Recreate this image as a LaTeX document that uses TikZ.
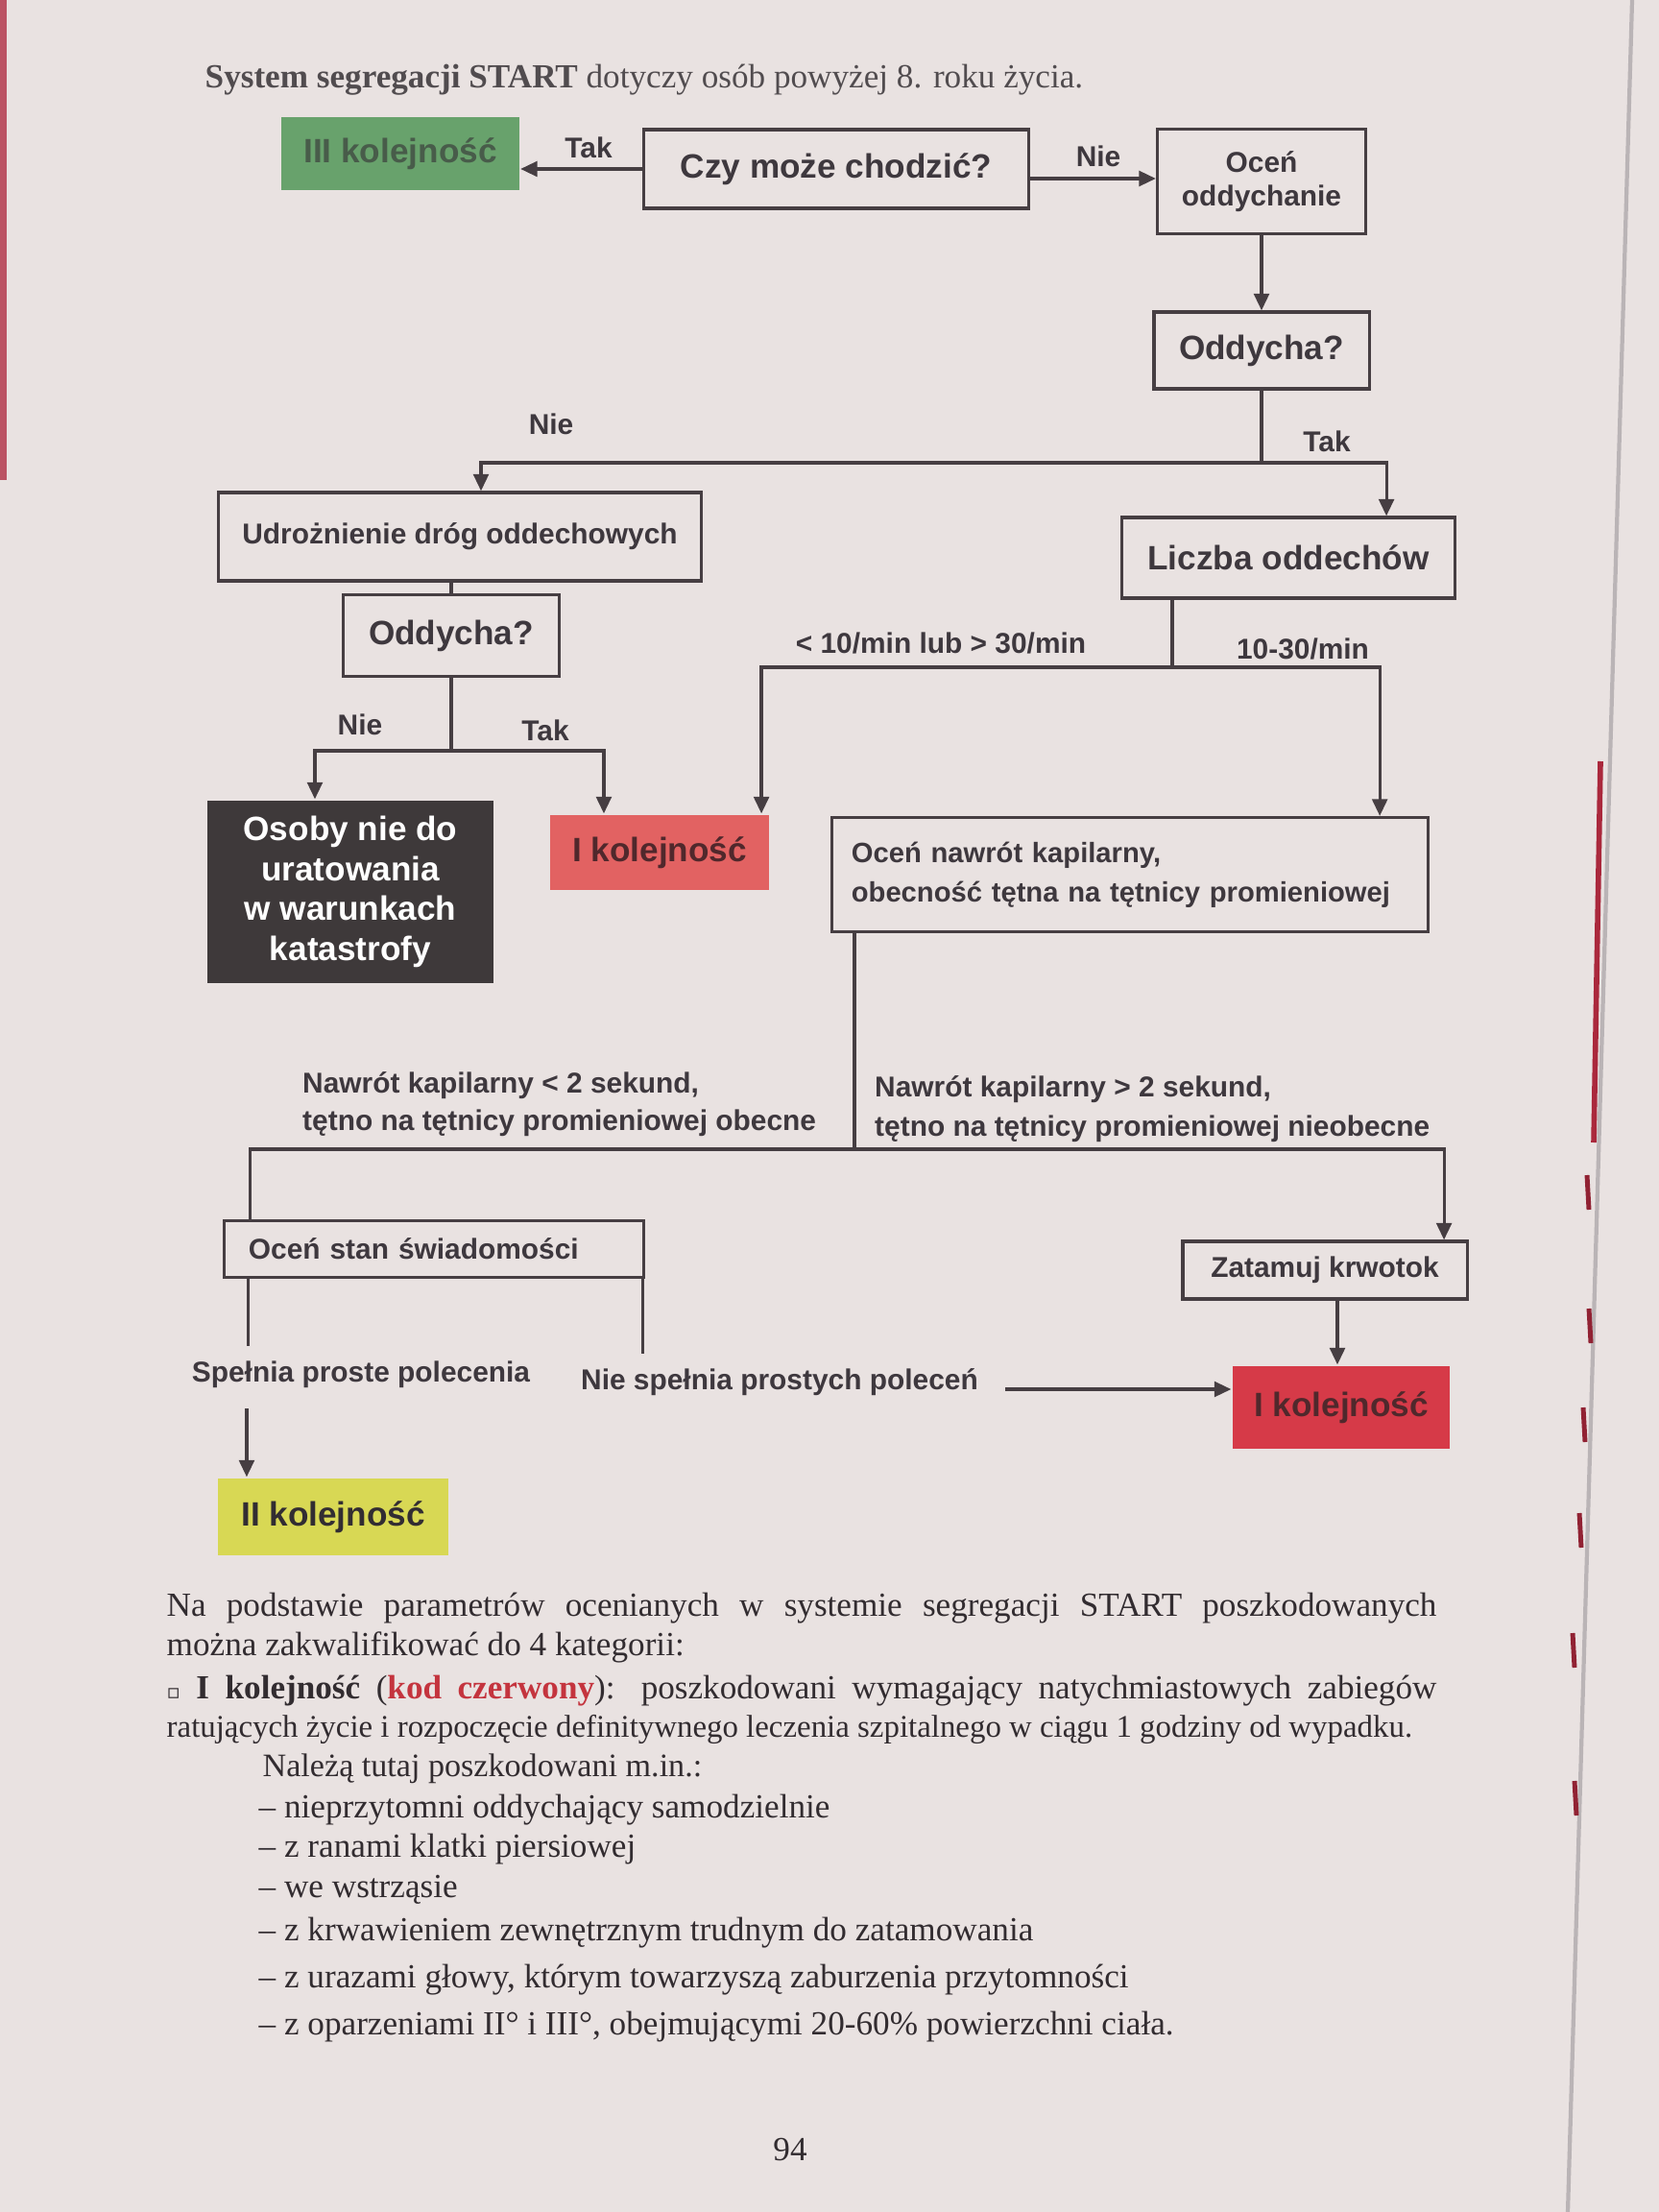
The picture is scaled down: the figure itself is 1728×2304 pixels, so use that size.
\documentclass[tikz,border=0pt]{standalone}
\usepackage{fontspec}
\setmainfont{Liberation Serif}
\newfontfamily\dsans{Liberation Sans}
\newfontfamily\dejavu{DejaVu Sans}
\usetikzlibrary{arrows.meta}
\definecolor{pagec}{RGB}{233,226,225}
\definecolor{linec}{RGB}{70,62,66}
\definecolor{txtc}{RGB}{62,56,62}
\definecolor{bodyc}{RGB}{50,44,48}
\definecolor{greenc}{RGB}{104,162,108}
\definecolor{greentxt}{RGB}{72,92,74}
\definecolor{darkc}{RGB}{62,57,58}
\definecolor{red1c}{RGB}{226,98,98}
\definecolor{red2c}{RGB}{214,58,72}
\definecolor{redtxt}{RGB}{80,40,44}
\definecolor{yelc}{RGB}{216,216,84}
\definecolor{kodc}{RGB}{196,52,62}
\definecolor{edgec}{RGB}{186,180,182}
\definecolor{markc}{RGB}{170,40,60}
\newcommand\bigf{\dsans\bfseries\fontsize{10}{11.8}\selectfont}
\newcommand\smallf{\dsans\bfseries\fontsize{8.5}{10}\selectfont}
\newcommand\bodyf{\fontsize{10}{12}\selectfont}
\tikzset{
  box/.style={draw=linec, line width=0.9pt, text=txtc, inner sep=0pt, font=\bigf},
  sbox/.style={box, font=\smallf},
  ln/.style={draw=linec, line width=0.9pt},
  arr/.style={ln, -{Triangle[length=5pt,width=4.5pt]}},
  lab/.style={text=txtc, inner sep=1pt, font=\smallf},
  body/.style={text=bodyc, inner sep=0pt, font=\bodyf},
}
\begin{document}
\begin{tikzpicture}[x=0.01cm,y=-0.01cm]
\useasboundingbox (0,0) rectangle (1728,2304);
\fill[pagec] (0,0) rectangle (1728,2304);
% page edge details
\fill[markc!80] (0,0) rectangle (7,500);
\draw[edgec, line width=1.2pt] (1700,0) -- (1633,2304);
\draw[markc, line width=1.6pt] (1667,793) -- (1660,1190);
\foreach \yy/\xx in {1242/1653,1381/1655,1484/1649,1594/1645,1719/1638,1873/1640}
  \draw[markc!85!black, line width=1.4pt] (\xx,\yy-18) -- (\xx+2,\yy+18);

% title
\node[body, anchor=base west, text=bodyc!85!white] (title) at (213,92)
  {\textbf{System segregacji START} dotyczy osób powyżej 8. roku życia.};

% nodes
\node[box, fill=greenc, draw=none, minimum width=2.47cm, minimum height=0.75cm, text=greentxt] (g3) at (417,160) {III kolejność};
\node[box, minimum width=4.01cm, minimum height=0.82cm] (czy) at (871,176) {Czy może chodzić?};
\node[sbox, minimum width=2.17cm, minimum height=1.09cm, align=center] (ocen) at (1314,189) {Oceń\\oddychanie};
\node[box, minimum width=2.24cm, minimum height=0.80cm] (odd1) at (1314,365) {Oddycha?};
\node[sbox, minimum width=5.02cm, minimum height=0.92cm] (udro) at (479,559) {Udrożnienie dróg oddechowych};
\node[box, minimum width=3.47cm, minimum height=0.84cm] (licz) at (1342,581) {Liczba oddechów};
\node[box, minimum width=2.25cm, minimum height=0.85cm] (odd2) at (470,662) {Oddycha?};
\node[box, fill=darkc, draw=none, text=white, minimum width=2.98cm, minimum height=1.90cm, align=center] (osoby) at (365,929) {Osoby nie do\\uratowania\\w warunkach\\katastrofy};
\node[box, fill=red1c, draw=none, text=redtxt, minimum width=2.28cm, minimum height=0.78cm] (red1) at (687,888) {I kolejność};
\node[sbox, inner xsep=0.2cm, text width=5.8cm, minimum height=1.19cm, align=left, font=\dsans\bfseries\fontsize{8.3}{11.6}\selectfont] (naw) at (1177,911) {Oceń nawrót kapilarny,\\obecność tętna na tętnicy promieniowej};
\node[sbox, inner xsep=0.25cm, text width=3.86cm, minimum height=0.59cm, align=left] (stan) at (452,1301) {Oceń stan świadomości};
\node[sbox, minimum width=2.96cm, minimum height=0.60cm] (zat) at (1380,1323) {Zatamuj krwotok};
\node[box, fill=red2c, draw=none, text=redtxt, minimum width=2.26cm, minimum height=0.86cm] (red2) at (1397,1466) {I kolejność};
\node[box, fill=yelc, draw=none, text=txtc!80!black, minimum width=2.39cm, minimum height=0.80cm] (yel) at (347,1580) {II kolejność};

% labels
\node[lab] (ltak1) at (613,154) {Tak};
\node[lab] (lnie1) at (1144,163) {Nie};
\node[lab] (lnie2) at (574,442) {Nie};
\node[lab] (ltak2) at (1382,460) {Tak};
\node[lab] (lnie3) at (375,755) {Nie};
\node[lab] (ltak3) at (568,761) {Tak};
\node[lab] (lslow) at (980,670) {< 10/min lub > 30/min};
\node[lab] (lnorm) at (1357,676) {10-30/min};
\node[lab, anchor=west, align=left, font=\dsans\bfseries\fontsize{8.5}{10.9}\selectfont] (lobec) at (311,1150) {Nawrót kapilarny < 2 sekund,\\tętno na tętnicy promieniowej obecne};
\node[lab, anchor=west, align=left, font=\dsans\bfseries\fontsize{8.5}{11.6}\selectfont] (lnieob) at (907,1155) {Nawrót kapilarny > 2 sekund,\\tętno na tętnicy promieniowej nieobecne};
\node[lab] (lspel) at (376,1432) {Spełnia proste polecenia};
\node[lab] (lniespel) at (812,1440) {Nie spełnia prostych poleceń};

% junction points
\coordinate (j1) at (1314,482);
\coordinate (j2) at (470,782);
\coordinate (j3) at (1221,695);
\coordinate (j4) at (890,1197);
\coordinate (c1) at ([yshift=-0.1cm]czy.east);
\coordinate (c2) at ([xshift=0.24cm,yshift=-0.07cm]lniespel.east);

% connectors
\draw[arr] (czy.west) -- (g3.east |- czy.west);
\draw[arr] (c1) -- (c1 -| ocen.west);
\draw[arr] (ocen.south) -- (odd1.north);
\draw[ln] (odd1.south) -- (j1);
\draw[arr] (j1) -| ([xshift=0.22cm]udro.north);
\draw[arr] (j1) -| ([xshift=1.02cm]licz.north);
\draw[ln] (odd2.north |- udro.south) -- (odd2.north);
\draw[ln] (odd2.south) -- (j2);
\draw[arr] (j2) -| ([xshift=-0.37cm]osoby.north);
\draw[arr] (j2) -| ([xshift=-0.58cm]red1.north);
\draw[ln] (j3 |- licz.south) -- (j3);
\draw[arr] (j3) -| ([xshift=1.06cm]red1.north);
\draw[arr] (j3) -| ([xshift=2.60cm]naw.north);
\draw[ln] (j4 |- naw.south) -- (j4);
\draw[ln] (j4) -| ([xshift=-1.91cm]stan.north);
\draw[arr] (j4) -| ([xshift=1.24cm]zat.north);
\draw[ln, shorten >=0.12cm] ([xshift=-1.93cm]stan.south) -- ([xshift=-1.93cm]stan.south |- lspel.north);
\draw[arr, shorten <=0.17cm] ([xshift=-0.9cm]yel.north |- lspel.south) -- ([xshift=-0.9cm]yel.north);
\draw[ln, shorten >=0.12cm] ([xshift=-0.02cm]stan.south east) -- ([xshift=-0.02cm]stan.south east |- lniespel.north);
\draw[arr] (c2) -- (c2 -| red2.west);
\draw[arr] ([xshift=0.13cm]zat.south) -- ([xshift=0.13cm]zat.south |- red2.north);

% body text
\node[body, anchor=base west] (b1) at (173,1683) {\hbox to 13.22cm{Na podstawie parametrów ocenianych w systemie segregacji START poszkodowanych}};
\node[body, anchor=base west] (b2) at (173,1724) {można zakwalifikować do 4 kategorii:};
\node[body, anchor=base west] (b3) at (173,1769) {\hbox to 13.22cm{{\dejavu\fontsize{6}{6}\selectfont ▫} \textbf{I kolejność} (\textbf{\color{kodc}kod czerwony}): poszkodowani wymagający natychmiastowych zabiegów}};
\node[body, anchor=base west, font=\fontsize{9.35}{11.6}\selectfont] (b4) at (173,1809) {ratujących życie i rozpoczęcie definitywnego leczenia szpitalnego w ciągu 1 godziny od wypadku.};
\node[body, anchor=base west, font=\fontsize{9.7}{11.6}\selectfont] (b5) at (273,1850) {Należą tutaj poszkodowani m.in.:};
\node[body, anchor=base west] (b6) at (269,1893) {– nieprzytomni oddychający samodzielnie};
\node[body, anchor=base west] (b7) at (269,1934) {– z ranami klatki piersiowej};
\node[body, anchor=base west] (b8) at (269,1976) {– we wstrząsie};
\node[body, anchor=base west] (b9) at (269,2021) {– z krwawieniem zewnętrznym trudnym do zatamowania};
\node[body, anchor=base west] (b10) at (269,2070) {– z urazami głowy, którym towarzyszą zaburzenia przytomności};
\node[body, anchor=base west] (b11) at (269,2119) {– z oparzeniami II° i III°, obejmującymi 20-60\% powierzchni ciała.};
\node[body, anchor=base] (pg) at (823,2250) {94};
\end{tikzpicture}
\end{document}
